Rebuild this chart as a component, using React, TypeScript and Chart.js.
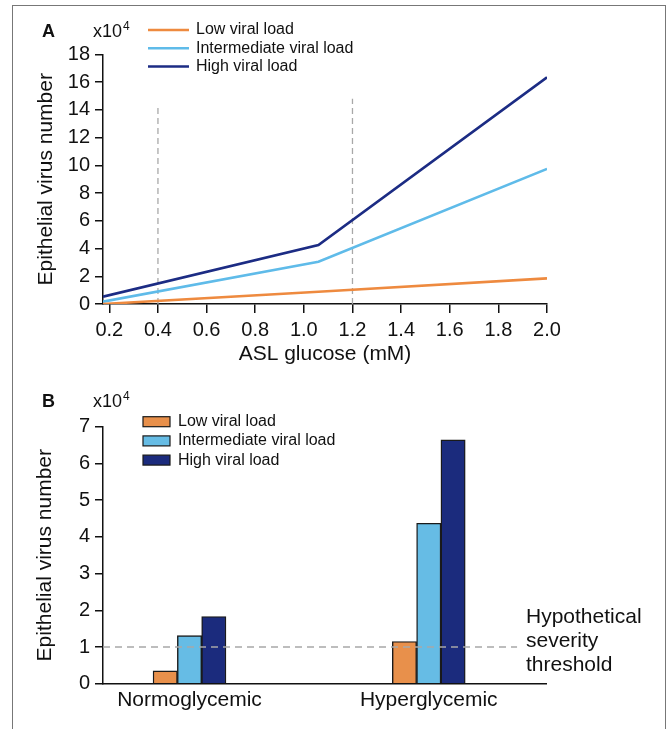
import React, { useEffect, useRef } from "react";
import { Chart, registerables } from "chart.js";

Chart.register(...registerables);

const FONT = '"Liberation Sans", Arial, Helvetica, sans-serif';

// ---------- shared ----------
const seriesNames = ["Low viral load", "Intermediate viral load", "High viral load"];
const lineColors = ["#EE8A3F", "#5FBBE9", "#1C2C84"];
const barColors = ["#E8904B", "#66BCE5", "#1B2B7D"];

// ---------- panel A ----------
const glucose = [0.174, 1.06, 2.0];
const lowLoadA = [0.0, 0.88, 1.85];
const intermediateLoadA = [0.17, 3.05, 9.75];
const highLoadA = [0.53, 4.25, 16.35];
const xTicksA = [0.2, 0.4, 0.6, 0.8, 1.0, 1.2, 1.4, 1.6, 1.8, 2.0];
const yTicksA = [0, 2, 4, 6, 8, 10, 12, 14, 16, 18];
const refGlucose = [0.4, 1.2];
const refTop = [14.3, 14.8];

// ---------- panel B ----------
const groups = ["Normoglycemic", "Hyperglycemic"];
const groupPos = [1, 2];
const lowLoadB = [0.35, 1.15];
const intermediateLoadB = [1.31, 4.37];
const highLoadB = [1.83, 6.64];
const yTicksB = [0, 1, 2, 3, 4, 5, 6, 7];
const threshold = 1;
const thresholdSpan = [0.6384, 2.369];
const thresholdText = ["Hypothetical", "severity", "threshold"];

const tickFont = { family: FONT, size: 20 };
const titleFont = { family: FONT, size: 21 };
const INK = "#111";

function drawPanelHeader(ctx: CanvasRenderingContext2D, letter: string, baseline: number) {
  ctx.fillStyle = INK;
  ctx.textAlign = "left";
  ctx.textBaseline = "alphabetic";
  ctx.font = `bold 18px ${FONT}`;
  ctx.fillText(letter, 42, baseline);
  ctx.font = `18px ${FONT}`;
  ctx.fillText("x10", 93, baseline);
  const w = ctx.measureText("x10").width;
  ctx.font = `12px ${FONT}`;
  ctx.fillText("4", 93 + w + 1, baseline - 7);
}

const annotA = {
  id: "annotA",
  afterDraw(chart: any) {
    const ctx = chart.ctx as CanvasRenderingContext2D;
    ctx.save();
    drawPanelHeader(ctx, "A", 36.7);
    ctx.font = `16px ${FONT}`;
    ctx.textBaseline = "middle";
    seriesNames.forEach((n, i) => {
      const y = 30 + i * 18.3;
      ctx.strokeStyle = lineColors[i];
      ctx.lineWidth = 2.5;
      ctx.beginPath();
      ctx.moveTo(148, y);
      ctx.lineTo(189, y);
      ctx.stroke();
      ctx.fillStyle = INK;
      ctx.fillText(n, 196, y);
    });
    ctx.restore();
  },
};

const annotB = {
  id: "annotB",
  afterDraw(chart: any) {
    const ctx = chart.ctx as CanvasRenderingContext2D;
    ctx.save();
    drawPanelHeader(ctx, "B", 34.7);
    ctx.font = `16px ${FONT}`;
    ctx.textBaseline = "middle";
    seriesNames.forEach((n, i) => {
      const y = 49.7 + i * 19.2;
      ctx.fillStyle = barColors[i];
      ctx.fillRect(143, y - 5, 27, 10);
      ctx.strokeStyle = "#1a1a1a";
      ctx.lineWidth = 1.2;
      ctx.strokeRect(143, y - 5, 27, 10);
      ctx.fillStyle = INK;
      ctx.fillText(n, 178, y);
    });
    ctx.font = `21px ${FONT}`;
    ctx.textBaseline = "alphabetic";
    thresholdText.forEach((t, i) => {
      ctx.fillText(t, 526, 251 + i * 24);
    });
    ctx.restore();
  },
};

function configA(): any {
  const lineSets = [lowLoadA, intermediateLoadA, highLoadA].map((vals, i) => ({
    label: seriesNames[i],
    data: glucose.map((g, j) => ({ x: g, y: vals[j] })),
    borderColor: lineColors[i],
    backgroundColor: lineColors[i],
    borderWidth: 2.6,
    pointRadius: 0,
    tension: 0,
    order: 0,
  }));
  const refSets = refGlucose.map((g, i) => ({
    label: "reference",
    data: [
      { x: g, y: 0 },
      { x: g, y: refTop[i] },
    ],
    borderColor: "#A8A8A8",
    borderWidth: 1.3,
    borderDash: [6, 4],
    pointRadius: 0,
    order: 1,
  }));
  return {
    type: "line",
    data: { datasets: [...lineSets, ...refSets] },
    options: {
      responsive: false,
      animation: false,
      devicePixelRatio: 1,
      layout: { padding: { top: 54.5, right: 122, left: 0, bottom: 0 } },
      plugins: { legend: { display: false }, tooltip: { enabled: false } },
      scales: {
        x: {
          type: "linear",
          min: glucose[0],
          max: 2.0,
          offset: false,
          afterBuildTicks: (s: any) => {
            s.ticks = xTicksA.map((v) => ({ value: v }));
          },
          afterFit: (s: any) => {
            s.height = 68;
          },
          ticks: {
            font: tickFont,
            color: INK,
            padding: 5,
            autoSkip: false,
            maxRotation: 0,
            callback: (v: any) => Number(v).toFixed(1),
          },
          grid: { drawOnChartArea: false, tickLength: 9, color: INK, lineWidth: 1.5 },
          border: { color: INK, width: 1.5 },
          title: {
            display: true,
            text: "ASL glucose (mM)",
            font: titleFont,
            color: INK,
            padding: { top: 0, bottom: 5 },
          },
        },
        y: {
          type: "linear",
          min: 0,
          max: 18,
          afterBuildTicks: (s: any) => {
            s.ticks = yTicksA.map((v) => ({ value: v }));
          },
          afterFit: (s: any) => {
            s.width = 103;
          },
          ticks: { font: tickFont, color: INK, padding: 5 },
          grid: { drawOnChartArea: false, tickLength: 8, color: INK, lineWidth: 1.5 },
          border: { color: INK, width: 1.5 },
          title: {
            display: true,
            text: "Epithelial virus number",
            font: titleFont,
            color: INK,
            padding: { top: 34, bottom: 0 },
          },
        },
      },
    },
    plugins: [annotA],
  };
}

function configB(): any {
  const barSets = [lowLoadB, intermediateLoadB, highLoadB].map((vals, i) => ({
    type: "bar",
    label: seriesNames[i],
    data: groupPos.map((p, j) => ({ x: p, y: vals[j] })),
    backgroundColor: barColors[i],
    borderColor: "#1a1a1a",
    borderWidth: 1.4,
    barThickness: 24.3,
    order: 1,
  }));
  const thresholdSet = {
    type: "line",
    label: "threshold",
    data: thresholdSpan.map((x) => ({ x, y: threshold })),
    borderColor: "#A8A8A8",
    borderWidth: 1.5,
    borderDash: [7, 5],
    pointRadius: 0,
    order: 0,
  };
  return {
    type: "bar",
    data: { datasets: [...barSets, thresholdSet] },
    options: {
      responsive: false,
      animation: false,
      devicePixelRatio: 1,
      layout: { padding: { top: 54.7, right: 123, left: 0, bottom: 0 } },
      plugins: { legend: { display: false }, tooltip: { enabled: false } },
      scales: {
        x: {
          type: "linear",
          min: 0.6384,
          max: 2.49,
          offset: false,
          afterBuildTicks: (s: any) => {
            s.ticks = groupPos.map((v) => ({ value: v }));
          },
          afterFit: (s: any) => {
            s.height = 45.3;
          },
          ticks: {
            font: titleFont,
            color: INK,
            padding: 4,
            autoSkip: false,
            maxRotation: 0,
            callback: (_v: any, i: number) => groups[i],
          },
          grid: { display: true, offset: false, drawOnChartArea: false, drawTicks: false },
          border: { color: INK, width: 1.5 },
        },
        y: {
          type: "linear",
          min: 0,
          max: 7,
          afterBuildTicks: (s: any) => {
            s.ticks = yTicksB.map((v) => ({ value: v }));
          },
          afterFit: (s: any) => {
            s.width = 103;
          },
          ticks: { font: tickFont, color: INK, padding: 5 },
          grid: { drawOnChartArea: false, tickLength: 8, color: INK, lineWidth: 1.5 },
          border: { color: INK, width: 1.5 },
          title: {
            display: true,
            text: "Epithelial virus number",
            font: titleFont,
            color: INK,
            padding: { top: 33, bottom: 0 },
          },
        },
      },
    },
    plugins: [annotB],
  };
}

function ChartCanvas({ make, top, height }: { make: () => any; top: number; height: number }) {
  const ref = useRef<HTMLCanvasElement>(null);
  useEffect(() => {
    const chart = new Chart(ref.current as HTMLCanvasElement, make());
    return () => chart.destroy();
  }, []);
  return (
    <canvas
      ref={ref}
      width={669}
      height={height}
      style={{ position: "absolute", left: 0, top, width: 669, height, display: "block" }}
    />
  );
}

export default function App() {
  return (
    <div
      style={{
        position: "absolute",
        left: 0,
        top: 0,
        width: 669,
        height: 729,
        overflow: "hidden",
        background: "#fff",
        fontFamily: FONT,
      }}
    >
      <div
        style={{
          position: "absolute",
          left: 12,
          top: 5,
          width: 654,
          height: 760,
          border: "1.5px solid #777",
          boxSizing: "border-box",
        }}
      />
      <ChartCanvas make={configA} top={0} height={372} />
      <ChartCanvas make={configB} top={372} height={357} />
    </div>
  );
}
